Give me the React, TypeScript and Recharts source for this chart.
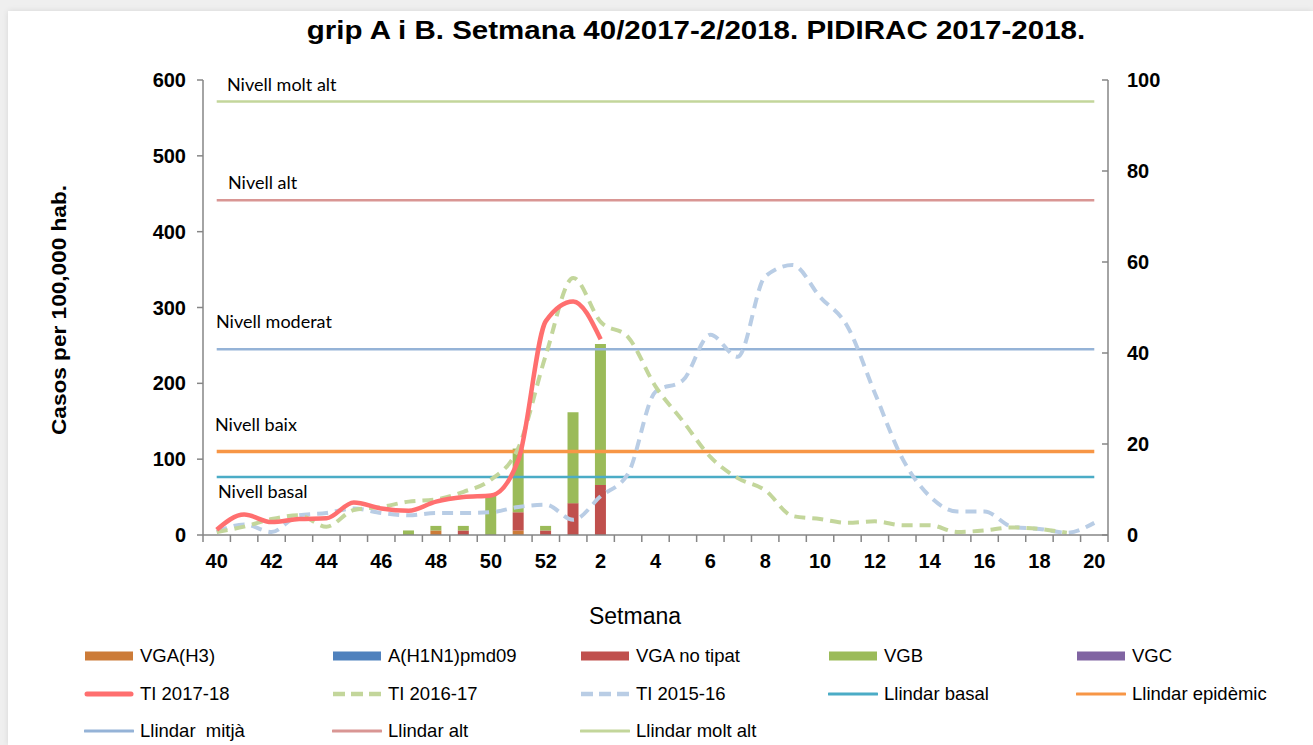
import React from "react"
import { ComposedChart, Bar, Line, XAxis, YAxis, ReferenceLine } from "recharts"

// setmanes epidemiològiques 40/2017 .. 20/2018
const WEEKS = [
  "40", "41", "42", "43", "44", "45", "46", "47", "48", "49", "50", "51", "52",
  "1", "2", "3", "4", "5", "6", "7", "8", "9", "10",
  "11", "12", "13", "14", "15", "16", "17", "18", "19", "20",
]

// detecció de virus (eix dret)
const VGA_H3 = [0, 0, 0, 0, 0, 0, 0, 0, 1, 0, 0, 1, 0, 0, 0]
const A_H1N1 = [0, 0, 0, 0, 0, 0, 0, 0, 0, 0, 0, 0, 0, 0, 0]
const VGA_NO_TIPAT = [0, 0, 0, 0, 0, 0, 0, 0, 0, 1, 0, 4, 1, 7, 11]
const VGB = [0, 0, 0, 0, 0, 0, 0, 1, 1, 1, 9, 14, 1, 20, 31]
const VGC = [0, 0, 0, 0, 0, 0, 0, 0, 0, 0, 0, 0, 0, 0, 0]

// taxes d'incidència (eix esquerre)
const TI_2017_18 = [7, 27, 17, 21, 22, 43, 35, 32, 44, 50, 52, 99, 282, 308, 258]
const TI_2016_17 = [
  4, 11, 21, 26, 11, 33, 37, 44, 47, 57, 73, 115, 237,
  339, 281, 261, 196, 150, 103, 75, 59, 25, 21, 16, 18, 13, 13, 4, 6, 10, 8, 3, null,
]
const TI_2015_16 = [
  4, 14, 4, 26, 29, 35, 29, 26, 29, 29, 30, 37, 40,
  20, 51, 81, 189, 204, 264, 235, 341, 356, 314, 275, 187, 101, 51, 31, 31, 11, 8, 3, 16,
]

// llindars
const LLINDAR_BASAL = 76.5
const LLINDAR_EPIDEMIC = 110
const LLINDAR_MITJA = 245
const LLINDAR_ALT = 441.5
const LLINDAR_MOLT_ALT = 571.5

const LEFT_TICKS = [0, 100, 200, 300, 400, 500, 600]
const RIGHT_TICKS = [0, 20, 40, 60, 80, 100]

const NIVELLS = [
  { name: "Nivell molt alt", value: LLINDAR_MOLT_ALT },
  { name: "Nivell alt", value: LLINDAR_ALT },
  { name: "Nivell moderat", value: LLINDAR_MITJA },
  { name: "Nivell baix", value: LLINDAR_EPIDEMIC },
  { name: "Nivell basal", value: LLINDAR_BASAL },
]

const LEGEND = [
  { name: "VGA(H3)", color: "#CC7B38", kind: "bar" },
  { name: "A(H1N1)pmd09", color: "#4F81BD", kind: "bar" },
  { name: "VGA no tipat", color: "#C0504D", kind: "bar" },
  { name: "VGB", color: "#9BBB59", kind: "bar" },
  { name: "VGC", color: "#8064A2", kind: "bar" },
  { name: "TI 2017-18", color: "#FF6F6F", kind: "line" },
  { name: "TI 2016-17", color: "#C3D69B", kind: "dash" },
  { name: "TI 2015-16", color: "#B9CDE5", kind: "dash" },
  { name: "Llindar basal", color: "#4BACC6", kind: "thin" },
  { name: "Llindar epidèmic", color: "#F79646", kind: "thin" },
  { name: "Llindar  mitjà", color: "#95B3D7", kind: "thin" },
  { name: "Llindar alt", color: "#D99694", kind: "thin" },
  { name: "Llindar molt alt", color: "#C3D69B", kind: "thin" },
]

const data = WEEKS.map((w, i) => ({
  week: w,
  h3: VGA_H3[i] ?? null,
  h1n1: A_H1N1[i] ?? null,
  noTipat: VGA_NO_TIPAT[i] ?? null,
  vgb: VGB[i] ?? null,
  vgc: VGC[i] ?? null,
  ti1718: TI_2017_18[i] ?? null,
  ti1617: TI_2016_17[i] ?? null,
  ti1516: TI_2015_16[i] ?? null,
  basal: LLINDAR_BASAL,
  epidemic: LLINDAR_EPIDEMIC,
  mitja: LLINDAR_MITJA,
  alt: LLINDAR_ALT,
  moltAlt: LLINDAR_MOLT_ALT,
}))

const PLOT_LEFT = 203
const PLOT_RIGHT = 1108
const PLOT_TOP = 80
const PLOT_BOTTOM = 535
const HALF_BAND = (PLOT_RIGHT - PLOT_LEFT) / WEEKS.length / 2
const AXIS = "#868686"
const ARIAL = "'Liberation Sans', Arial, sans-serif"

// ticks d'Excel: marques entre categories, etiqueta cada dues setmanes
function WeekTick(props: any) {
  const { x, y, payload, index } = props
  return (
    <g>
      <line x1={x - HALF_BAND} x2={x - HALF_BAND} y1={PLOT_BOTTOM} y2={PLOT_BOTTOM + 7} stroke={AXIS} strokeWidth={1.5} />
      {index === WEEKS.length - 1 && (
        <line x1={x + HALF_BAND} x2={x + HALF_BAND} y1={PLOT_BOTTOM} y2={PLOT_BOTTOM + 7} stroke={AXIS} strokeWidth={1.5} />
      )}
      {index % 2 === 0 && (
        <text x={x} y={y} dy="0.71em" textAnchor="middle" fontFamily={ARIAL} fontWeight="bold" fontSize={20} fill="#000">
          {payload.value}
        </text>
      )}
    </g>
  )
}

// eix dret: les marques apunten cap a dins, com a l'original
function RightTick(props: any) {
  const { x, y, payload } = props
  const ax = PLOT_RIGHT
  return (
    <g>
      <line x1={ax - 6} x2={ax} y1={y} y2={y} stroke={AXIS} strokeWidth={1.5} />
      <text x={x} y={y} dy="0.355em" textAnchor="start" fontFamily={ARIAL} fontWeight="bold" fontSize={20} fill="#000">
        {payload.value}
      </text>
    </g>
  )
}

const labelOffsets = [
  { dx: 24, dy: -11 },
  { dx: 25, dy: -11 },
  { dx: 13, dy: -21 },
  { dx: 12, dy: -21 },
  { dx: 15, dy: 21 },
]

function Swatch({ color, kind }: { color: string; kind: string }) {
  return (
    <svg width={50} height={12} style={{ marginRight: 6, flex: "none" }}>
      {kind === "bar" && <rect x={1} y={1.5} width={48} height={9} fill={color} />}
      {kind === "line" && <line x1={3} x2={47} y1={6} y2={6} stroke={color} strokeWidth={5} strokeLinecap="round" />}
      {kind === "dash" && (
        <line x1={1} x2={49} y1={6} y2={6} stroke={color} strokeWidth={4.5} strokeDasharray="12 6" />
      )}
      {kind === "thin" && <line x1={1} x2={49} y1={6} y2={6} stroke={color} strokeWidth={3} strokeLinecap="round" />}
    </svg>
  )
}

export default function App() {
  const cols = [84, 332, 580, 828, 1076]
  const rows = [656, 694, 731]

  return (
    <div style={{ position: "absolute", left: 0, top: 0, width: 1313, height: 745, background: "#efefef", overflow: "hidden" }}>
      <div style={{ position: "absolute", left: 8, top: 11, width: 1305, height: 734, background: "#fff", boxShadow: "0 0 6px rgba(0,0,0,0.10)" }} />

      <div style={{ position: "absolute", left: 0, top: 0 }}>
        <ComposedChart
          width={1313}
          height={745}
          data={data}
          margin={{ top: PLOT_TOP, right: 1313 - PLOT_RIGHT - 60, bottom: 745 - PLOT_BOTTOM - 40, left: PLOT_LEFT - 60 }}
          barSize={11}
        >
          <XAxis
            dataKey="week"
            interval={0}
            height={40}
            tickLine={false}
            tickSize={0}
            tickMargin={19}
            tick={<WeekTick />}
            axisLine={{ stroke: AXIS, strokeWidth: 1.5 }}
          />
          <YAxis
            yAxisId="left"
            width={60}
            domain={[0, 600]}
            ticks={LEFT_TICKS}
            tickSize={6}
            tickMargin={11}
            axisLine={{ stroke: AXIS, strokeWidth: 1.5 }}
            tickLine={{ stroke: AXIS, strokeWidth: 1.5 }}
            tick={{ fontFamily: ARIAL, fontWeight: "bold", fontSize: 20, fill: "#000" }}
          />
          <YAxis
            yAxisId="right"
            orientation="right"
            width={60}
            domain={[0, 100]}
            ticks={RIGHT_TICKS}
            tickSize={0}
            tickMargin={19}
            tickLine={false}
            axisLine={{ stroke: AXIS, strokeWidth: 1.5 }}
            tick={<RightTick />}
          />

          <Bar yAxisId="right" dataKey="h3" stackId="v" fill="#CC7B38" isAnimationActive={false} />
          <Bar yAxisId="right" dataKey="h1n1" stackId="v" fill="#4F81BD" isAnimationActive={false} />
          <Bar yAxisId="right" dataKey="noTipat" stackId="v" fill="#C0504D" isAnimationActive={false} />
          <Bar yAxisId="right" dataKey="vgb" stackId="v" fill="#9BBB59" isAnimationActive={false} />
          <Bar yAxisId="right" dataKey="vgc" stackId="v" fill="#8064A2" isAnimationActive={false} />

          <Line yAxisId="left" dataKey="moltAlt" stroke="#C3D69B" strokeWidth={2.5} dot={false} activeDot={false} isAnimationActive={false} />
          <Line yAxisId="left" dataKey="alt" stroke="#D99694" strokeWidth={2.5} dot={false} activeDot={false} isAnimationActive={false} />
          <Line yAxisId="left" dataKey="mitja" stroke="#95B3D7" strokeWidth={2.5} dot={false} activeDot={false} isAnimationActive={false} />
          <Line yAxisId="left" dataKey="epidemic" stroke="#F79646" strokeWidth={3.5} dot={false} activeDot={false} isAnimationActive={false} />
          <Line yAxisId="left" dataKey="basal" stroke="#4BACC6" strokeWidth={2.5} dot={false} activeDot={false} isAnimationActive={false} />

          <Line yAxisId="left" type="monotone" dataKey="ti1516" stroke="#B9CDE5" strokeWidth={4} strokeDasharray="11 7" dot={false} activeDot={false} isAnimationActive={false} />
          <Line yAxisId="left" type="monotone" dataKey="ti1617" stroke="#C3D69B" strokeWidth={4} strokeDasharray="11 7" dot={false} activeDot={false} isAnimationActive={false} />
          <Line yAxisId="left" type="monotone" dataKey="ti1718" stroke="#FF6F6F" strokeWidth={4.5} dot={false} activeDot={false} isAnimationActive={false} />

          {NIVELLS.map((n, i) => (
            <ReferenceLine
              key={n.name}
              yAxisId="left"
              y={n.value}
              stroke="none"
              label={(p: any) => (
                <text
                  x={p.viewBox.x + labelOffsets[i].dx}
                  y={p.viewBox.y + labelOffsets[i].dy}
                  fontFamily="Lato, 'Open Sans', sans-serif"
                  fontSize={18}
                  fill="#000"
                >
                  {n.name}
                </text>
              )}
            />
          ))}
        </ComposedChart>
      </div>

      <div style={{ position: "absolute", left: 696, top: 16, width: 0 }}>
        <div style={{ position: "absolute", left: 0, transform: "translateX(-50%) scaleX(1.18)", fontFamily: ARIAL, fontWeight: "bold", fontSize: 25, color: "#000", whiteSpace: "nowrap" }}>
          grip A i B. Setmana 40/2017-2/2018. PIDIRAC 2017-2018.
        </div>
      </div>

      <div style={{ position: "absolute", left: 59, top: 310, width: 0, height: 0 }}>
        <div style={{ position: "absolute", transform: "translate(-50%, -50%) rotate(-90deg) scaleX(1.13)", fontFamily: ARIAL, fontWeight: "bold", fontSize: 20, whiteSpace: "nowrap", color: "#000" }}>
          Casos per 100,000 hab.
        </div>
      </div>

      <div style={{ position: "absolute", left: 0, width: 1270, top: 603, textAlign: "center", fontFamily: ARIAL, fontSize: 23, color: "#000" }}>
        Setmana
      </div>

      {LEGEND.map((item, i) => (
        <div
          key={item.name}
          style={{
            position: "absolute",
            left: cols[i % 5],
            top: rows[Math.floor(i / 5)] - 11,
            height: 22,
            display: "flex",
            alignItems: "center",
            fontFamily: ARIAL,
            fontSize: 18.5,
            color: "#000",
            whiteSpace: "pre",
          }}
        >
          <Swatch color={item.color} kind={item.kind} />
          <span>{item.name}</span>
        </div>
      ))}
    </div>
  )
}
